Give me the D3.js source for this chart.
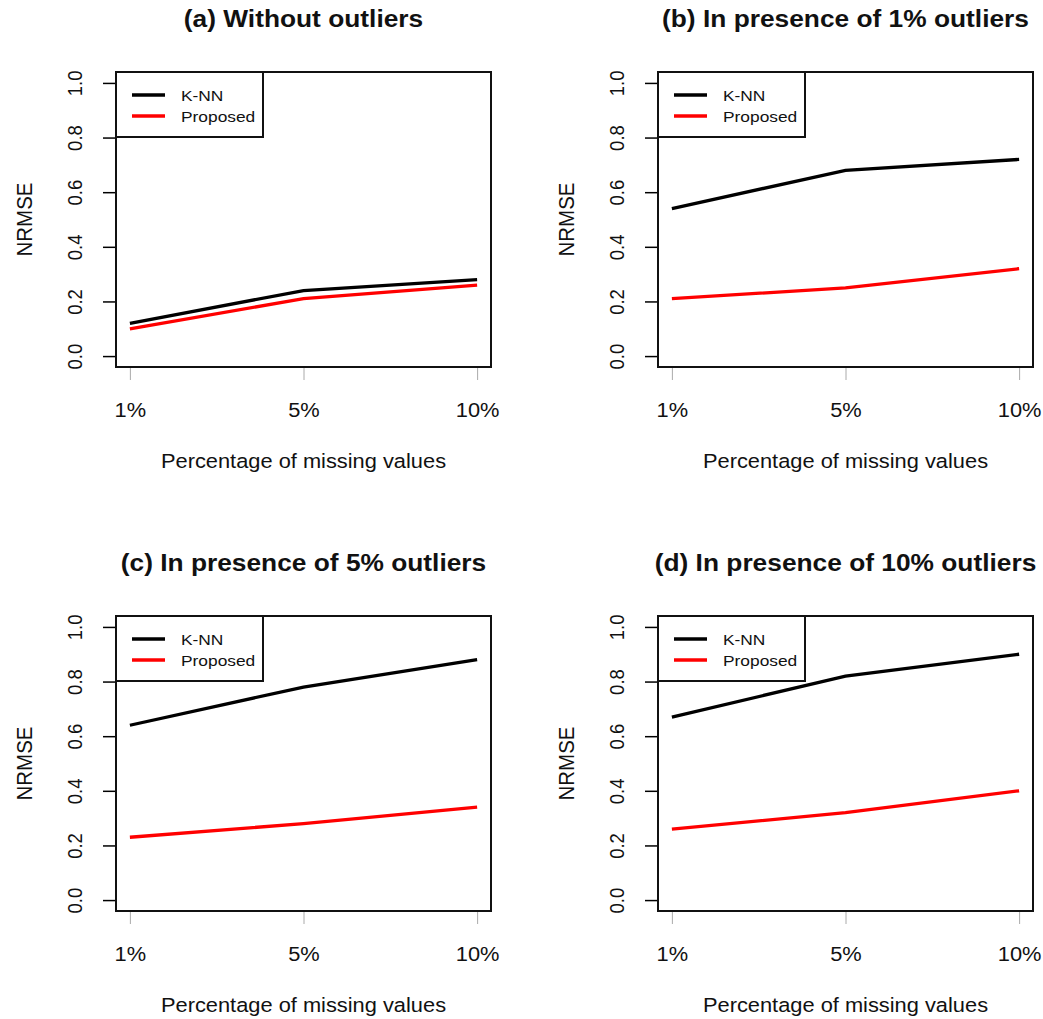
<!DOCTYPE html>
<meta charset="utf-8">
<style>
html, body {
  margin: 0;
  background: #fff;
}
svg text {
  font-family: "Liberation Sans", Arial, sans-serif;
  fill: #111;
}
</style>
<svg width="1043" height="1019"></svg>
<script src="https://d3js.org/d3.v7.min.js"></script>
<script>
// values
const missing = ['1%', '5%', '10%'];
const titles = [
  '(a) Without outliers',
  '(b) In presence of 1% outliers',
  '(c) In presence of 5% outliers',
  '(d) In presence of 10% outliers'
];
const knn = [
  [0.12, 0.24, 0.28],
  [0.54, 0.68, 0.72],
  [0.64, 0.78, 0.88],
  [0.67, 0.82, 0.90]
];
const proposed = [
  [0.10, 0.21, 0.26],
  [0.21, 0.25, 0.32],
  [0.23, 0.28, 0.34],
  [0.26, 0.32, 0.40]
];
const yTicks = [0, 0.2, 0.4, 0.6, 0.8, 1.0];
const legendNames = ['K-NN', 'Proposed'];
const legendColors = ['#000', '#f00'];

const svg = d3.select('svg');
const sx = 1.12; // the reference text is a bit wider than tall
const box = {left: 116, right: 491, top: 72, bottom: 367};
const offsets = [[0, 0], [542, 0], [0, 544], [542, 544]];

const x = d3.scalePoint()
  .domain(missing)
  .range([box.left, box.right])
  .padding(0.08);
const y = d3.scaleLinear()
  .domain([-0.04, 1.04])
  .range([box.bottom, box.top]);

const line = d3.line()
  .x((d, i) => x(missing[i]))
  .y(d => y(d));

titles.forEach((title, p) => {
  const g = svg.append('g')
    .attr('transform', `translate(${offsets[p][0]},${offsets[p][1]})`);
  const cx = (box.left + box.right) / 2;

  g.append('text')
    .attr('transform', `translate(${cx},27) scale(${sx},1)`)
    .attr('text-anchor', 'middle')
    .attr('font-size', 23.5)
    .attr('font-weight', 'bold')
    .text(title);

  // y axis
  const ya = g.append('g')
    .attr('transform', `translate(${box.left},0)`)
    .call(d3.axisLeft(y).tickValues(yTicks).tickSize(13).tickFormat(d3.format('.1f')));
  ya.select('.domain').remove();
  ya.selectAll('.tick line').attr('stroke', '#000').attr('stroke-width', 1.5);
  ya.selectAll('.tick text')
    .attr('x', null).attr('dy', null)
    .attr('text-anchor', 'middle')
    .attr('font-size', 18.5)
    .attr('fill', '#111')
    .attr('transform', `translate(-34,0) scale(${sx},1) rotate(-90)`);

  // x axis, grey ticks below the box
  const xa = g.append('g')
    .attr('transform', `translate(0,${box.bottom})`)
    .call(d3.axisBottom(x).tickSize(13));
  xa.select('.domain').remove();
  xa.selectAll('.tick line').attr('stroke', '#aaa').attr('stroke-width', 1);
  xa.selectAll('.tick text')
    .attr('y', null).attr('dy', null)
    .attr('font-size', 19.5)
    .attr('fill', '#111')
    .attr('transform', `translate(0,50) scale(${sx},1)`);

  g.append('text')
    .attr('transform', `translate(${cx},468) scale(${sx},1)`)
    .attr('text-anchor', 'middle')
    .attr('font-size', 19.5)
    .text('Percentage of missing values');

  g.append('text')
    .attr('transform', `translate(32,${(box.top + box.bottom) / 2}) scale(${sx},1) rotate(-90)`)
    .attr('text-anchor', 'middle')
    .attr('font-size', 20.5)
    .text('NRMSE');

  // lines
  [knn[p], proposed[p]].forEach((vals, k) => {
    g.append('path')
      .datum(vals)
      .attr('fill', 'none')
      .attr('stroke', legendColors[k])
      .attr('stroke-width', 3.3)
      .attr('d', line);
  });

  // plot box
  g.append('rect')
    .attr('x', box.left).attr('y', box.top)
    .attr('width', box.right - box.left)
    .attr('height', box.bottom - box.top)
    .attr('fill', 'none')
    .attr('stroke', '#111')
    .attr('stroke-width', 2);

  // legend
  const lg = g.append('g');
  lg.append('rect')
    .attr('x', box.left).attr('y', box.top)
    .attr('width', 147).attr('height', 65)
    .attr('fill', '#fff')
    .attr('stroke', '#111')
    .attr('stroke-width', 2);
  legendNames.forEach((name, k) => {
    const ly = 95 + k * 21;
    lg.append('line')
      .attr('x1', 132).attr('x2', 165)
      .attr('y1', ly).attr('y2', ly)
      .attr('stroke', legendColors[k])
      .attr('stroke-width', 3.3);
    lg.append('text')
      .attr('transform', `translate(181,${ly + 6}) scale(${sx},1)`)
      .attr('font-size', 15.5)
      .text(name);
  });
});
</script>
